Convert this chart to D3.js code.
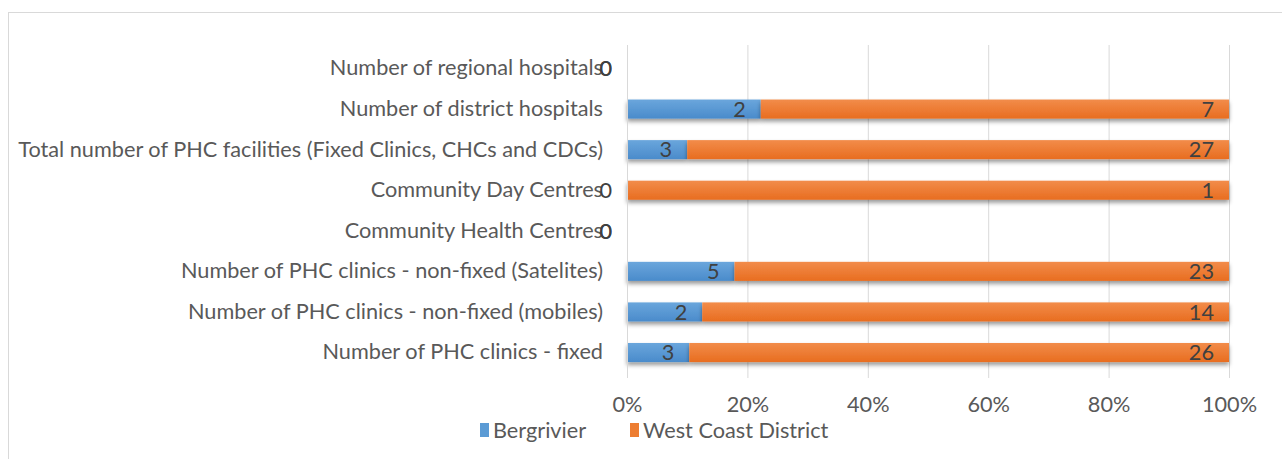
<!DOCTYPE html>
<html>
<head>
<meta charset="utf-8">
<script src="https://cdn.jsdelivr.net/npm/d3@7/dist/d3.min.js"></script>
<style>
  body { margin: 0; background: #fff; }
  text { font-family: Lato, "Open Sans", sans-serif; }
</style>
</head>
<body>
<div id="chart"></div>
<script>
// categories, top to bottom as shown
var categories = [
    "Number of regional hospitals",
    "Number of district hospitals",
    "Total number of PHC facilities (Fixed Clinics, CHCs and CDCs)",
    "Community Day Centres",
    "Community Health Centres",
    "Number of PHC clinics - non-fixed (Satelites)",
    "Number of PHC clinics - non-fixed (mobiles)",
    "Number of PHC clinics - fixed"
];
var bergrivier = [0, 2, 3, 0, 0, 5, 2, 3];
var westCoast = [0, 7, 27, 1, 0, 23, 14, 26];
var seriesNames = ["Bergrivier", "West Coast District"];
var tickValues = [0, 0.2, 0.4, 0.6, 0.8, 1];

var W = 1282, H = 459;
var plotLeft = 627, plotRight = 1229, plotTop = 48, plotBottom = 373;
var fontSize = "21.7px";

var svg = d3.select("#chart").append("svg")
    .attr("width", W)
    .attr("height", H);

// outer chart border
svg.append("rect")
    .attr("x", 8.5).attr("y", 12.5)
    .attr("width", W).attr("height", H)
    .attr("fill", "none")
    .attr("stroke", "#d9d9d9");

var defs = svg.append("defs");
var shadow = defs.append("filter").attr("id", "shadow")
    .attr("x", "-5%").attr("y", "-30%").attr("width", "110%").attr("height", "180%");
shadow.append("feDropShadow")
    .attr("dx", 0).attr("dy", 3).attr("stdDeviation", 2.2)
    .attr("flood-color", "#000").attr("flood-opacity", 0.4);

function grad(id, c1, c2) {
    var g = defs.append("linearGradient").attr("id", id)
        .attr("x1", 0).attr("y1", 0).attr("x2", 0).attr("y2", 1);
    g.append("stop").attr("offset", "0%").attr("stop-color", c1);
    g.append("stop").attr("offset", "100%").attr("stop-color", c2);
}
grad("gBlue", "#6aa6dc", "#4a8bcb");
grad("gOrange", "#f28c4a", "#e86d20");
var fills = ["url(#gBlue)", "url(#gOrange)"];
var solid = ["#5b9bd5", "#ed7d31"];

var x = d3.scaleLinear().domain([0, 1]).range([plotLeft, plotRight]);
var y = d3.scaleBand().domain(categories).range([plotTop, plotBottom]).paddingInner(0.53).paddingOuter(0.27);

// gridlines
svg.append("g")
    .selectAll("line")
    .data(tickValues)
    .enter().append("line")
    .attr("x1", function(d) { return x(d) + 0.5; })
    .attr("x2", function(d) { return x(d) + 0.5; })
    .attr("y1", plotTop - 3)
    .attr("y2", plotBottom + 5)
    .attr("stroke", "#d9d9d9")
    .attr("stroke-width", 1);

// x axis tick labels
var xAxis = svg.append("g")
    .attr("transform", "translate(0," + (plotBottom + 21) + ")")
    .call(d3.axisBottom(x).tickValues(tickValues).tickFormat(d3.format(".0%")).tickSize(0));
xAxis.select(".domain").remove();
xAxis.selectAll("text")
    .attr("fill", "#595959")
    .style("font-size", fontSize);

// category labels
var yAxis = svg.append("g")
    .attr("transform", "translate(" + (plotLeft - 24) + ",0)")
    .call(d3.axisLeft(y).tickSize(0));
yAxis.select(".domain").remove();
yAxis.selectAll("text")
    .attr("fill", "#595959")
    .attr("x", 0)
    .style("font-size", fontSize);

// stacked data
var rows = categories.map(function(c, i) {
    var total = bergrivier[i] + westCoast[i];
    var p0 = total ? bergrivier[i] / total : 0;
    var p1 = total ? westCoast[i] / total : 0;
    return [
        {cat: c, s: 0, x0: 0, x1: p0, v: bergrivier[i]},
        {cat: c, s: 1, x0: p0, x1: p0 + p1, v: westCoast[i]}
    ];
});
var segs = [].concat.apply([], rows);

svg.append("g")
    .selectAll("rect")
    .data(segs.filter(function(d) { return d.x1 > d.x0; }))
    .enter().append("rect")
    .attr("x", function(d) { return x(d.x0); })
    .attr("y", function(d) { return y(d.cat); })
    .attr("width", function(d) { return x(d.x1) - x(d.x0); })
    .attr("height", y.bandwidth())
    .attr("fill", function(d) { return fills[d.s]; })
    .attr("filter", "url(#shadow)");

// left axis line
svg.append("line")
    .attr("x1", plotLeft + 0.5).attr("x2", plotLeft + 0.5)
    .attr("y1", plotTop - 3).attr("y2", plotBottom + 5)
    .attr("stroke", "#d9d9d9");

// data labels, inside end
svg.append("g")
    .selectAll("text")
    .data(segs)
    .enter().append("text")
    .attr("x", function(d) { return x(d.x1) - 15; })
    .attr("y", function(d) { return y(d.cat) + y.bandwidth() / 2; })
    .attr("dy", "0.36em")
    .attr("text-anchor", "end")
    .attr("fill", "#404040")
    .style("font-size", fontSize)
    .text(function(d) { return d.v; });

// legend
var legend = svg.append("g").attr("transform", "translate(480,430)");
var lx = [0, 150];
seriesNames.forEach(function(n, i) {
    legend.append("rect")
        .attr("x", lx[i]).attr("y", -7)
        .attr("width", 9).attr("height", 14)
        .attr("fill", solid[i]);
    legend.append("text")
        .attr("x", lx[i] + 13).attr("y", 0)
        .attr("dy", "0.36em")
        .attr("fill", "#595959")
        .style("font-size", fontSize)
        .text(n);
});
</script>
</body>
</html>
